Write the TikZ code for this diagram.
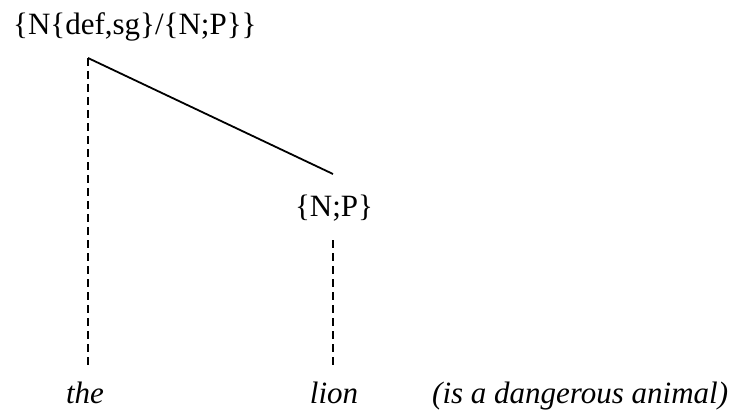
\documentclass[tikz,border=0pt]{standalone}
\usepackage{fontspec}
\setmainfont{Liberation Serif}
\begin{document}
\begin{tikzpicture}[x=1pt,y=-1pt,
  lab/.style={inner sep=0pt,font=\fontsize{31}{36}\selectfont},
  word/.style={inner sep=0pt,anchor=base,font=\fontsize{31}{36}\selectfont\itshape},
  dep/.style={dashed,dash pattern=on 8pt off 5pt,line width=1.4pt},
  arc/.style={line width=1.8pt}]
\useasboundingbox (0,0) rectangle (739,412);
\node[lab,anchor=base west] (top) at (13,35) {\{N\{def,sg\}/\{N;P\}\}};
\node[lab] (np) at (334,208) {\{N;P\}};
\coordinate (a) at (88,58);
\coordinate (b) at (333,174);
\coordinate (c) at (333,240);
\node[word] (the) at (85,403) {the};
\node[word] (lion) at (334,403) {lion};
\node[word,anchor=base west] (rest) at (432,403) {(is a dangerous animal)};
\coordinate (ae) at (88,368);
\coordinate (ce) at (333,368);
\draw[arc] (a) -- (b);
\draw[dep] (a) -- (ae);
\draw[dep] (c) -- (ce);
\end{tikzpicture}
\end{document}
